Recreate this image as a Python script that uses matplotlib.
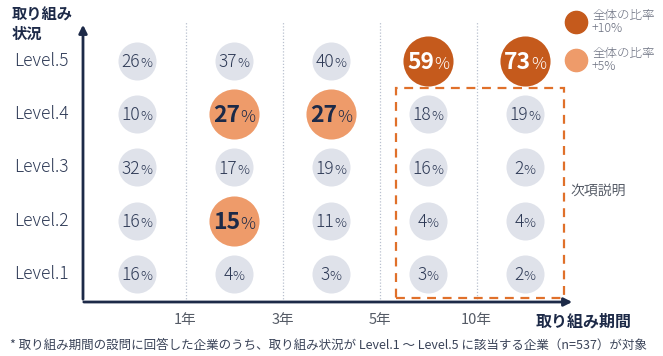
import matplotlib.pyplot as plt
import matplotlib.transforms as mtransforms
from matplotlib.patches import Rectangle

plt.rcParams['font.family'] = ['Noto Sans CJK JP', 'DejaVu Sans']

# data
levels = ['Level.1', 'Level.2', 'Level.3', 'Level.4', 'Level.5']
periods = ['1年', '3年', '5年', '10年']
# rows: Level.1 .. Level.5, columns: period buckets
values = [
    [16, 4, 3, 3, 2],
    [16, 15, 11, 4, 4],
    [32, 17, 19, 16, 2],
    [10, 27, 27, 18, 19],
    [26, 37, 40, 59, 73],
]
# 0 = normal, 1 = +5%, 2 = +10%
highlight = [
    [0, 0, 0, 0, 0],
    [0, 1, 0, 0, 0],
    [0, 0, 0, 0, 0],
    [0, 1, 1, 0, 0],
    [0, 0, 0, 2, 2],
]

navy = '#1d2a48'
textc = '#2e3a56'
gray_c = '#dfe2ea'
light_c = '#ee9b6a'
dark_c = '#c55a1c'
face = {0: gray_c, 1: light_c, 2: dark_c}
size = {0: 750, 1: 1300, 2: 1300}

fig = plt.figure(figsize=(6.63, 3.56), dpi=100)
W, H = 663, 356
ax = fig.add_axes([83 / W, 1 - 302 / H, (575 - 83) / W, (302 - 22) / H])
ax.set_xlim(-0.557, 4.515)
ax.set_ylim(0.474, 5.73)
for s in ax.spines.values():
    s.set_visible(False)
ax.set_xticks([])
ax.set_yticks([])

# dotted separators
for i in range(len(periods)):
    ax.axvline(i + 0.5, color='#b9c0cf', lw=0.9, ls=(0, (1, 1.5)), zorder=0)
    ax.text(i + 0.5, -0.065, periods[i], transform=ax.get_xaxis_transform(),
            ha='center', va='center', fontsize=10.5, color='#555b66')

# axes arrows
ax.annotate('', xy=(0, 1.0), xytext=(0, 0), xycoords='axes fraction',
            arrowprops=dict(arrowstyle='-|>', color=navy, lw=2, mutation_scale=12))
ax.annotate('', xy=(1.0, 0), xytext=(-0.004, 0), xycoords='axes fraction',
            arrowprops=dict(arrowstyle='-|>', color=navy, lw=2, mutation_scale=12))

# bubbles
fig.canvas.draw()
renderer = fig.canvas.get_renderer()
for r, row in enumerate(values):
    for c, v in enumerate(row):
        h = highlight[r][c]
        ax.scatter(c, r + 1, s=size[h], color=face[h], lw=0, zorder=2)
        if h:
            nfs, pfs, wt = 16.5, 12, 'bold'
        else:
            nfs, pfs, wt = 12.5, 9.5, 'light'
        col = 'white' if h == 2 else (navy if h == 1 else textc)
        t1 = ax.text(c, r + 1, str(v), fontsize=nfs, fontweight=wt, color=col,
                     ha='left', va='baseline', zorder=3)
        t2 = ax.text(c, r + 1, '%', fontsize=pfs, color=col, fontweight='light',
                     ha='left', va='baseline', zorder=3)
        w1 = t1.get_window_extent(renderer).width
        w2 = t2.get_window_extent(renderer).width
        dy = -0.36 * nfs * 100 / 72
        t1.set_transform(mtransforms.offset_copy(ax.transData, fig, x=-(w1 + w2) / 2,
                                                 y=dy, units='dots'))
        t2.set_transform(mtransforms.offset_copy(ax.transData, fig, x=-(w1 + w2) / 2 + w1,
                                                 y=dy, units='dots'))

# level labels
for i, lab in enumerate(levels):
    fig.text(14 / W, ax.transData.transform((0, i + 1))[1] / H, lab,
             ha='left', va='center', fontsize=12.5, color=textc, fontweight='light')

# dashed box
ax.add_patch(Rectangle((2.67, 0.55), 1.73, 3.94, fill=False, ec='#e0702a',
                       lw=1.6, ls=(0, (4, 3)), zorder=1, clip_on=False))
fig.text(570 / W, 1 - 191 / H, '次項説明', ha='left', va='center',
         fontsize=10, color='#555b66')

# titles
fig.text(12 / W, 1 - 24 / H, '取り組み\n状況', ha='left', va='center',
         fontsize=11, fontweight='bold', color=navy, linespacing=1.25)
fig.text(632 / W, 1 - 322 / H, '取り組み期間', ha='right', va='center',
         fontsize=11.5, fontweight='bold', color=navy)
fig.text(10 / W, 1 - 345 / H,
         '* 取り組み期間の設問に回答した企業のうち、取り組み状況が Level.1 ～ Level.5 に該当する企業（n=537）が対象',
         ha='left', va='center', fontsize=9, color='#3a4358')

# legend
for yy, cc, lab in [(22, dark_c, '全体の比率\n+10%'), (60, light_c, '全体の比率\n+5%')]:
    fig.lines.append(plt.Line2D([576 / W], [1 - yy / H], marker='o', ms=16,
                                color=cc, mec=cc, transform=fig.transFigure))
    fig.text(592 / W, 1 - yy / H, lab, ha='left', va='center', fontsize=9,
             color='#6b7080', linespacing=1.1, fontweight='light')

fig.savefig('out.png', dpi=100)
